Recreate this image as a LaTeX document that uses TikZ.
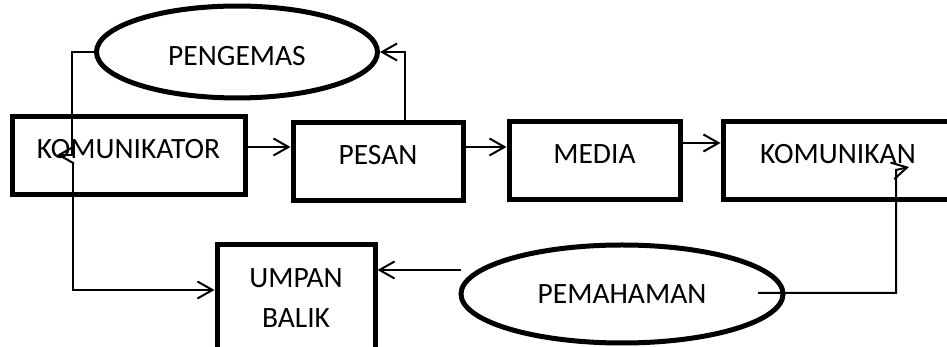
\documentclass[tikz,border=0pt]{standalone}
\usepackage{fontspec}
\setmainfont{Carlito}
\usetikzlibrary{arrows.meta,shapes.geometric}

\begin{document}
\begin{tikzpicture}[%
    x=1pt,y=1pt,%
    every node/.style={font=\fontsize{29.5}{40}\selectfont,inner sep=0pt},%
    box/.style={draw,line width=5pt,minimum width=#1,minimum height=78pt,%
        text height=22pt,text depth=17pt},%
    oval/.style={draw,ellipse,line width=5pt},%
    arr/.style={line width=2pt,-{Straight Barb[length=15pt,width=17pt,line width=2pt]}},%
]%
    \clip (0,0) rectangle (947,347);
    \fill[white] (0,0) rectangle (947,347);

    % boxes of the chain
    \node[box=233pt] (komunikator) at (128.5,191) {KOMUNIKATOR};
    \node[box=170pt] (pesan) at (378,185) {PESAN};
    \node[box=171pt] (media) at (594.5,186) {MEDIA};
    \node[box=230pt] (komunikan) at (838,186) {KOMUNIKAN};
    \node[draw,line width=5pt,minimum width=158pt,minimum height=106pt,align=center] (umpan) at (296,49) {UMPAN\\BALIK};

    % the two ovals
    \node[oval,minimum width=281pt,minimum height=80pt,text height=46pt,text depth=19pt] (pengemas) at (237,295) {PENGEMAS};
    \node[oval,minimum width=322pt,minimum height=98pt] (pemahaman) at (622,53) {PEMAHAMAN};

    % free ends inside boxes
    \coordinate (kin) at ([xshift=-71.5pt,yshift=1pt]komunikator.center);
    \coordinate (kout) at ([xshift=71pt,yshift=-6pt]komunikan.center);

    % main flow
    \draw[arr] ([yshift=9pt]komunikator.east) -- ([yshift=15pt]pesan.west);
    \draw[arr] ([yshift=15pt]pesan.east) -- ([yshift=14pt]media.west);
    \draw[arr] ([yshift=18pt]media.east) -- ([yshift=18pt]komunikan.west);

    % loops
    \draw[arr] ([xshift=27pt]pesan.north) |- (pengemas.east);
    \draw[arr] (pengemas.west) -- ++(-22,0) |- (kin);
    \draw[arr] ([xshift=-55.5pt,yshift=-7pt]komunikator.center) |- ([yshift=8pt]umpan.west);
    \draw[arr] ([xshift=2pt,yshift=24pt]pemahaman.west) -- ([yshift=28pt]umpan.east);
    \draw[arr] ([xshift=136pt,yshift=1pt]pemahaman.center) -- ++(138,0) -- ++(0,123) -- (kout);
\end{tikzpicture}
\end{document}
